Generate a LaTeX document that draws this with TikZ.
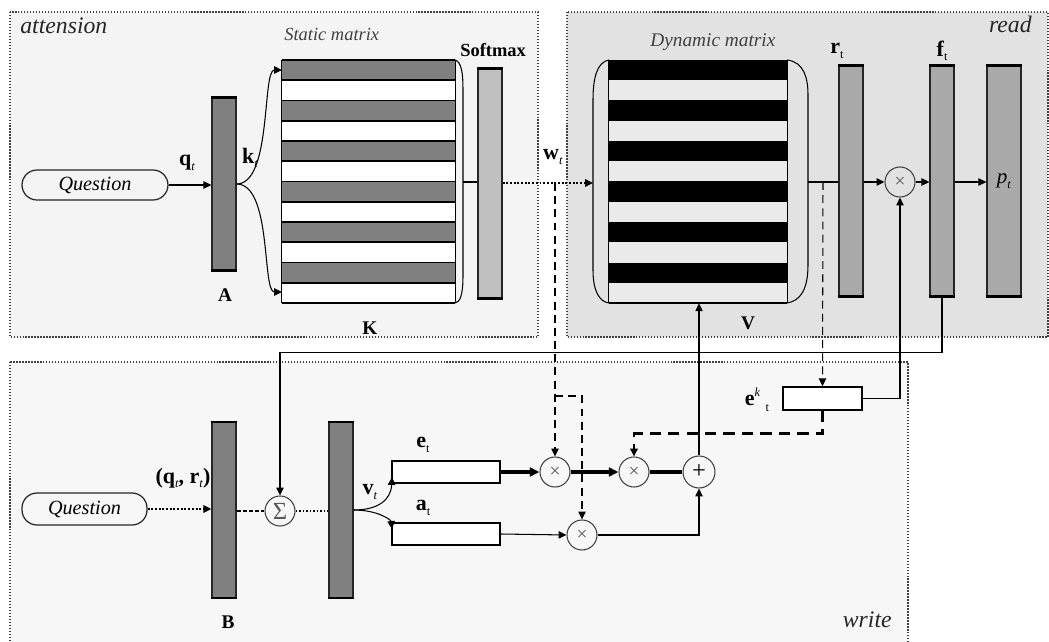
\documentclass[tikz,border=0pt]{standalone}
\usepackage{fontspec}
\setmainfont{Liberation Serif}
\usetikzlibrary{arrows.meta}
\definecolor{attbg}{HTML}{F4F4F4}
\definecolor{readbg}{HTML}{E2E2E2}
\definecolor{writebg}{HTML}{F7F7F7}
\definecolor{darkbar}{HTML}{808080}
\definecolor{midbar}{HTML}{A9A9A9}
\definecolor{lightbar}{HTML}{C0C0C0}
\definecolor{lightrow}{HTML}{EAEAEA}
\newcommand{\bsub}[2]{\textbf{#1}\raisebox{-0.45ex}{\scriptsize #2}}
\tikzset{
  frame/.style={densely dotted, line width=0.7pt, draw=black!75},
  bar/.style={draw=black!85, line width=0.7pt, minimum width=0.48cm, inner sep=0pt},
  circ/.style={circle, draw=black!75, line width=0.6pt, minimum size=0.6cm, inner sep=0pt, text=black!65},
  arr/.style={-{Triangle[length=4.5pt,width=4.2pt]}, line width=0.6pt},
  tharr/.style={-{Triangle[length=5.5pt,width=5pt]}, line width=1.8pt},
  ques/.style={draw=black!85, line width=0.7pt, rounded corners=0.3cm, inner sep=0pt,
    font=\fontsize{11.5}{13}\selectfont\itshape},
  sect/.style={font=\fontsize{13.5}{16}\selectfont\itshape, text=black!85, inner sep=0pt},
  mlab/.style={font=\fontsize{10.5}{12}\selectfont\itshape, text=black!75, inner sep=0pt},
  blab/.style={font=\fontsize{11}{13}\selectfont\bfseries, inner sep=0pt},
  vlab/.style={font=\fontsize{12.5}{14}\selectfont, inner sep=0pt},
  thdash/.style={dash pattern=on 4.5pt off 3pt},
  thkdash/.style={dash pattern=on 6.5pt off 4pt, line width=1.6pt}
}
\begin{document}
\begin{tikzpicture}[x=0.02cm,y=-0.02cm]
\clip (0,0) rectangle (1049,642);
\fill[white] (0,0) rectangle (1049,642);
% frames
\draw[frame, fill=attbg] (10,12) rectangle (538,337);
\draw[frame, fill=readbg] (567,12) rectangle (1048,337);
\draw[frame, fill=writebg] (10,362) rectangle (908,670);
\node[sect, anchor=base west] (tatt) at (20,34) {attension};
\node[sect, anchor=base east] (tread) at (1032,33) {\textit{read}};
\node[sect, anchor=base east] (twrite) at (892,627) {write};

% ---------- attention ----------
\node[ques, minimum width=2.92cm, minimum height=0.6cm] (Q1) at (95,185) {Question};
\node[bar, fill=darkbar, minimum height=3.44cm] (A) at (224,184) {};
\node[blab] (tA) at (225,295) {A};
% static matrix
\node[inner sep=0pt, minimum width=3.46cm, minimum height=4.86cm] (K) at (368.5,181.5) {};
\foreach \i in {0,...,11}{
  \pgfmathsetmacro{\ya}{60+\i*20.25}
  \pgfmathsetmacro{\yb}{60+(\i+1)*20.25}
  \ifodd\i
    \fill[white] (282,\ya) rectangle (455,\yb);
  \else
    \fill[darkbar] (282,\ya) rectangle (455,\yb);
  \fi
  \draw[line width=1pt] (282,\ya) -- (455,\ya);
}
\draw[line width=1pt] (K.south west) -- (K.south east);
\draw[line width=0.7pt] (K.north west) -- (K.south west);
\draw[line width=0.7pt] (K.north east) -- (K.south east);
\draw[line width=0.6pt] (455,60) .. controls (462,62) and (463,75) .. (463,90) -- (463,275) .. controls (463,296) and (460,302) .. (455,303);
\node[mlab, anchor=base west] (tK1) at (284,41) {Static matrix};
\node[blab] (tK) at (370,328) {K};
\node[bar, fill=lightbar, minimum height=4.58cm] (S) at (490,183.5) {};
\node[blab, anchor=base west, font=\fontsize{10.5}{12}\selectfont\bfseries] (tS) at (460,57) {Softmax};

\coordinate (Ktop) at (282,70);
\coordinate (Kbot) at (282,292);
\coordinate (Kbr) at (463,182);
\draw[arr] (Q1.east) -- (A.west|-Q1.east);
\node[vlab] (tq) at (187,163) {\bsub{q}{\textit{t}}};
\node[vlab] (tk) at (250,158) {\bsub{k}{\textit{t}}};
\draw[arr] (A.east) .. controls (272,184) and (262,70) .. (Ktop);
\draw[arr] (A.east) .. controls (272,184) and (262,292) .. (Kbot);
\draw[line width=0.7pt] (Kbr) -- (S.west|-Kbr);

% ---------- read ----------
\node[inner sep=0pt, minimum width=3.56cm, minimum height=4.86cm] (V) at (698,181.5) {};
\foreach \i in {0,...,11}{
  \pgfmathsetmacro{\ya}{60+\i*20.25}
  \pgfmathsetmacro{\yb}{60+(\i+1)*20.25}
  \ifodd\i
    \fill[lightrow] (609,\ya) rectangle (787,\yb);
  \else
    \fill[black] (609,\ya) rectangle (787,\yb);
  \fi
}
\draw[line width=1pt] (V.south west) -- (V.south east);
\draw[line width=0.7pt] (V.north west) -- (V.south west);
\draw[line width=0.7pt] (V.north east) -- (V.south east);
\draw[line width=0.6pt] (609,60) .. controls (597,62) and (593,78) .. (593,100) -- (593,270) .. controls (593,292) and (600,302) .. (609,303);
\draw[line width=0.6pt] (787,60) .. controls (804,62) and (808,78) .. (808,95) -- (808,265) .. controls (808,290) and (800,301) .. (787,303);
\node[mlab, anchor=base west, font=\fontsize{11}{13}\selectfont\itshape] (tV1) at (650,47) {Dynamic matrix};
\node[blab] (tV) at (748,323) {V};
\coordinate (Vl) at (593,183);
\coordinate (Vr) at (808,182);
\draw[arr, line width=1.1pt, densely dotted] (S.east|-Vl) -- (Vl);
\node[vlab] (tw) at (553,157) {\bsub{w}{\textit{t}}};

\node[bar, fill=midbar, minimum height=4.6cm] (R) at (851,181) {};
\node[bar, fill=midbar, minimum height=4.6cm] (F) at (942,181) {};
\node[bar, fill=midbar, minimum height=4.6cm, minimum width=0.68cm,
  font=\fontsize{12}{14}\selectfont] (P) at (1004,181) {\textit{p}\raisebox{-0.45ex}{\scriptsize\textit{t}}};
\node[vlab] (tr) at (837,51) {\bsub{r}{t}};
\node[vlab] (tf) at (942,51) {\bsub{f}{t}};
\node[circ, font=\fontsize{11}{12}\selectfont] (m0) at (900,182) {×};
\draw[line width=0.7pt] (Vr) -- (R.west|-Vr);
\draw[arr] (R.east|-m0) -- (m0.west);
\draw[arr] (m0.east) -- (F.west|-m0);
\draw[arr] (F.east|-m0) -- (P.west|-m0);

% ---------- write ----------
\node[ques, minimum width=2.5cm, minimum height=0.64cm] (Q2) at (84.5,509) {Question};
\node[bar, fill=darkbar, minimum height=3.5cm] (B) at (224,510) {};
\node[blab] (tB) at (228,622) {B};
\node[circ, font=\fontsize{14}{15}\selectfont] (Sig) at (280,511) {Σ};
\node[bar, fill=darkbar, minimum height=3.5cm] (C) at (341,510) {};
\foreach \n in {A,S,R,F,P,B,C}{
  \draw[line width=1.5pt] (\n.north west) -- (\n.north east) (\n.south west) -- (\n.south east);
}
\node[draw, line width=0.8pt, fill=white, minimum width=2.16cm, minimum height=0.44cm, inner sep=0pt] (E) at (446,472) {};
\node[draw, line width=0.8pt, fill=white, minimum width=2.16cm, minimum height=0.44cm, inner sep=0pt] (Ab) at (446,534) {};
\node[draw, line width=0.8pt, fill=white, minimum width=1.58cm, minimum height=0.46cm, inner sep=0pt] (ek) at (822.5,398.5) {};
\node[circ, font=\fontsize{11}{12}\selectfont] (m1) at (555,472) {×};
\node[circ, font=\fontsize{11}{12}\selectfont] (m2) at (634,472) {×};
\node[circ, font=\fontsize{11}{12}\selectfont] (m3) at (582,535) {×};
\node[circ, minimum size=0.64cm, text=black, font=\fontsize{14}{15}\selectfont] (pl) at (699,472) {+};

\node[vlab] (tqr) at (183,478) {\textbf{(q}\raisebox{-0.45ex}{\scriptsize\textit{t}}\textbf{, r}\raisebox{-0.45ex}{\scriptsize\textit{t}}\textbf{)}};
\node[vlab] (tv) at (370,492) {\bsub{v}{\textit{t}}};
\node[vlab] (te) at (423,445) {\bsub{e}{t}};
\node[vlab] (ta) at (423,508) {\bsub{a}{t}};
\node[vlab] (tek) at (757,400) {\textbf{e}\raisebox{0.9ex}{\scriptsize\textit{k}}\hspace{3pt}\raisebox{-0.6ex}{\scriptsize t}};

\draw[arr, line width=1.1pt, densely dotted] (Q2.east) -- (B.west|-Q2.east);
\draw[line width=1pt, dash pattern=on 2.5pt off 1pt] (B.east|-Sig) -- (Sig.west);
\draw[line width=1pt, densely dotted] (Sig.east) -- (C.west|-Sig);
\coordinate (Ein) at (392,477);
\coordinate (Ain) at (392,529);
\draw[arr] (C.east) .. controls (378,510) and (391,500) .. (Ein);
\draw[arr] (C.east) .. controls (378,510) and (391,520) .. (Ain);
\draw[tharr] (E.east) -- (m1.west);
\draw[tharr] (m1.east) -- (m2.west);
\draw[line width=1.8pt] (m2.east) -- (pl.west);
\draw[arr] (Ab.east) -- (m3.west);
\draw[arr] (m3.east) -| (pl.south);
\draw[arr] (pl.north) -- (V.south-|pl.north);

% feedback and taps
\draw[arr] (F.south) -- ++(0,56) -| (Sig.north);
\draw[arr] (ek.east) -| (m0.south);
\coordinate (rtap) at (823,182);
\coordinate (wtap) at (555,183);
\coordinate (btap) at (555,396);
\draw[arr, thdash] (rtap) -- (ek.north);
\draw[arr, thdash] (wtap) -- (m1.north);
\draw[arr, thdash] (btap) -| (m3.north);
\draw[arr, thkdash] (ek.south) -- ++(0,23) -| (m2.north);
\end{tikzpicture}
\end{document}
